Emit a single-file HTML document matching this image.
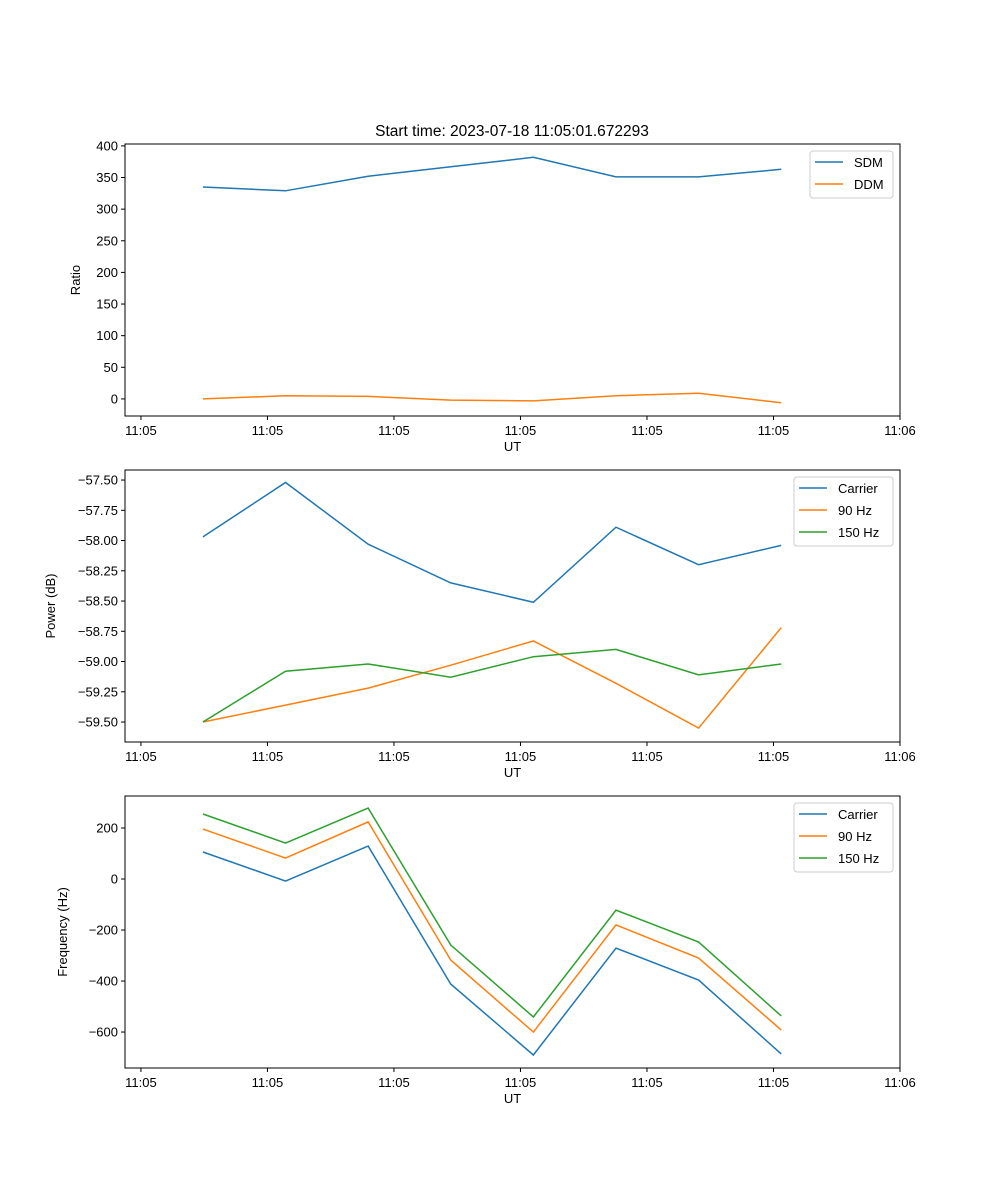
<!DOCTYPE html>
<html><head><meta charset="utf-8"><style>
body{margin:0;background:#fff}
svg{display:block;font-family:"Liberation Sans","DejaVu Sans",sans-serif}
</style></head><body>
<svg id="c" width="1000" height="1200" viewBox="0 0 1000 1200">
<rect width="1000" height="1200" fill="#fff"/>
<text x="512" y="136" font-size="15.5" text-anchor="middle">Start time: 2023-07-18 11:05:01.672293</text>
</svg>
<script>
const times=[0.49,1.143,1.796,2.449,3.102,3.755,4.408,5.061];
const xTickVals=[0,1,2,3,4,5,6];
const xTickLabels=["11:05","11:05","11:05","11:05","11:05","11:05","11:06"];
const sdm=[335,329,352,367,382,351,351,363];
const ddm=[0,5,4,-2,-3,5,9,-6];
const pwrCarrier=[-57.97,-57.52,-58.03,-58.35,-58.51,-57.89,-58.20,-58.04];
const pwr90=[-59.50,-59.36,-59.22,-59.03,-58.83,-59.18,-59.55,-58.72];
const pwr150=[-59.50,-59.08,-59.02,-59.13,-58.96,-58.90,-59.11,-59.02];
const frqCarrier=[106,-8,129,-412,-690,-271,-396,-686];
const frq90=[196,82,224,-318,-600,-180,-310,-592];
const frq150=[255,141,278,-259,-541,-122,-247,-537];
const ratioTicks=[0,50,100,150,200,250,300,350,400];
const pwrTicks=[-59.5,-59.25,-59,-58.75,-58.5,-58.25,-58,-57.75,-57.5];
const frqTicks=[-600,-400,-200,0,200];
const NS='http://www.w3.org/2000/svg';
const svg=document.getElementById('c');
function el(t,a,p){const e=document.createElementNS(NS,t);for(const k in a)e.setAttribute(k,a[k]);(p||svg).appendChild(e);return e;}
const L=125,R=900;
const xs=v=>L+(v-(-0.126))/(6.0-(-0.126))*(R-L);
function panel(name,top,bot,ymin,ymax,yt,fmt,ylabel,series,legend){
  const g=el('g',{});
  
  
  const ys=v=>bot-(v-ymin)/(ymax-ymin)*(bot-top);
  series.forEach(s=>{
    const p=el('polyline',{points:s.d.map((v,i)=>xs(times[i])+','+ys(v)).join(' '),fill:'none',stroke:s.c,'stroke-width':1.5},g);
    
    
  });
  const f=el('rect',{x:L,y:top,width:R-L,height:bot-top,fill:'none',stroke:'#000','stroke-width':1},g);
  
  
  xTickVals.forEach((v,i)=>{
    const x=xs(v);
    el('line',{x1:x,x2:x,y1:bot,y2:bot+4,stroke:'#000'},g);
    const t=el('text',{x:x,y:bot+19,'font-size':13,'text-anchor':'middle'},g);t.textContent=xTickLabels[i];
    
    
  });
  yt.forEach(v=>{
    const y=ys(v);
    el('line',{x1:L-4,x2:L,y1:y,y2:y,stroke:'#000'},g);
    const t=el('text',{x:L-7,y:y+4.5,'font-size':13,'text-anchor':'end'},g);t.textContent=fmt(v);
    
    
  });
  const xl=el('text',{x:(L+R)/2,y:bot+35,'font-size':13,'text-anchor':'middle'},g);xl.textContent='UT';
  
  
  const yc=(top+bot)/2, yx=legend.yx;
  const yl=el('text',{x:yx,y:yc,'font-size':13,'text-anchor':'middle',transform:'rotate(-90 '+yx+' '+yc+')'},g);yl.textContent=ylabel;
  
  
  const lg=el('g',{},g);
  
  
  el('rect',{x:legend.x,y:top+7,width:R-7-legend.x,height:series.length*22+3,rx:3,fill:'#fff','fill-opacity':0.8,stroke:'#ccc'},lg);
  series.forEach((s,i)=>{
    const y=top+18+i*22;
    el('line',{x1:legend.x+5,x2:legend.x+33,y1:y,y2:y,stroke:s.c,'stroke-width':1.5},lg);
    const t=el('text',{x:legend.x+44,y:y+5,'font-size':13},lg);t.textContent=s.n;
    
    
  });
}
panel('ratio',144,416,-27,403,ratioTicks,v=>String(v),'Ratio',
  [{n:'SDM',d:sdm,c:'#1f77b4'},{n:'DDM',d:ddm,c:'#ff7f0e'}],{x:810,yx:80});
panel('power',470,742,-59.665,-57.417,pwrTicks,v=>'\u2212'+Math.abs(v).toFixed(2),'Power (dB)',
  [{n:'Carrier',d:pwrCarrier,c:'#1f77b4'},{n:'90 Hz',d:pwr90,c:'#ff7f0e'},{n:'150 Hz',d:pwr150,c:'#2ca02c'}],{x:794,yx:55});
panel('frequency',796,1068,-741,325.5,frqTicks,v=>(v<0?'\u2212':'')+Math.abs(v),'Frequency (Hz)',
  [{n:'Carrier',d:frqCarrier,c:'#1f77b4'},{n:'90 Hz',d:frq90,c:'#ff7f0e'},{n:'150 Hz',d:frq150,c:'#2ca02c'}],{x:794,yx:67});
</script>
</body></html>
